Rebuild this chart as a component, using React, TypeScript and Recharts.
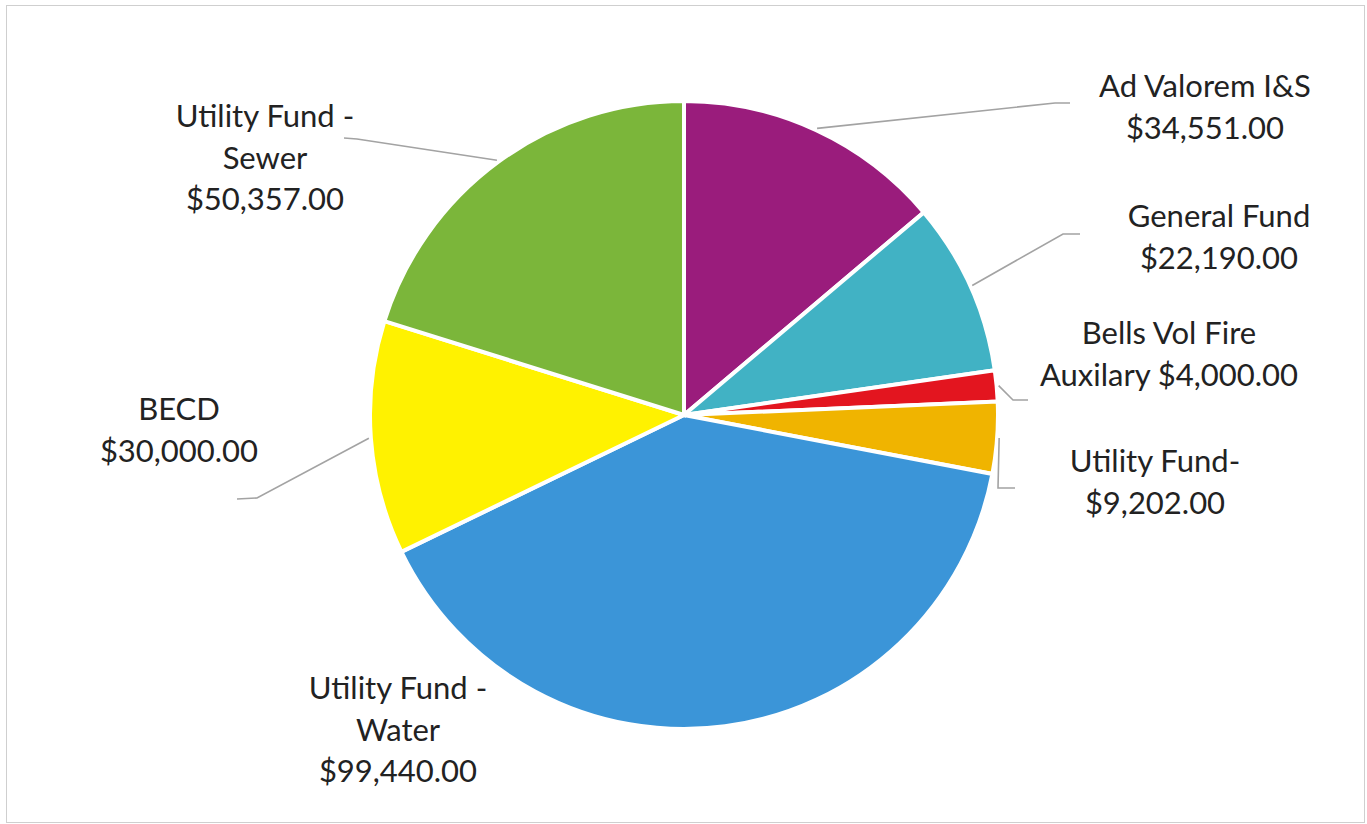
import React from 'react';
import { PieChart, Pie, Cell } from 'recharts';

// slices clockwise from 12 o'clock
const CATEGORIES = [
  'Ad Valorem I&S',
  'General Fund',
  'Bells Vol Fire\nAuxilary',
  'Utility Fund-',
  'Utility Fund -\nWater',
  'BECD',
  'Utility Fund -\nSewer',
];
const AMOUNTS = [34551, 22190, 4000, 9202, 99440, 30000, 50357];
const COLORS = ['#9a1c7c', '#41b2c4', '#e3151f', '#f0b400', '#3b95d8', '#fff200', '#7bb63a'];

// value sits on the same line as the last name line (only Bells Vol Fire)
const VALUE_INLINE = [false, false, true, false, false, false, false];

// hand placed labels, like the Excel original: leader elbow/end points and text anchor
const LABEL_LAYOUT: { line: number[][]; text: number[] }[] = [
  { line: [[1055, 103], [1070, 103]], text: [1205, 97] },
  { line: [[1063, 234], [1080, 234]], text: [1219, 227] },
  { line: [[1013, 400], [1028, 400]], text: [1169, 344] },
  { line: [[998, 488], [1015, 488]], text: [1155, 472] },
  { line: [], text: [398, 699] },
  { line: [[257, 498], [237, 499]], text: [179, 420] },
  { line: [[357, 139], [344, 138]], text: [265, 127] },
];

const data = CATEGORIES.map((name, i) => ({ name, value: AMOUNTS[i] }));

const money = (v: number) =>
  '$' + v.toLocaleString('en-US', { minimumFractionDigits: 2, maximumFractionDigits: 2 });

const RAD = Math.PI / 180;
const LINE_H = 41.5;

const renderLabel = (props: any) => {
  const { cx, cy, midAngle, outerRadius, index, value } = props;
  const layout = LABEL_LAYOUT[index];
  const r = outerRadius + 2;
  const sx = cx + r * Math.cos(-midAngle * RAD);
  const sy = cy + r * Math.sin(-midAngle * RAD);

  const nameLines = CATEGORIES[index].split('\n');
  const lines = VALUE_INLINE[index]
    ? [...nameLines.slice(0, -1), nameLines[nameLines.length - 1] + ' ' + money(value)]
    : [...nameLines, money(value)];

  const pts = [[sx, sy], ...layout.line].map((p) => p.join(',')).join(' ');

  return (
    <g key={`lbl-${index}`}>
      {layout.line.length > 0 && (
        <polyline points={pts} fill="none" stroke="#a3a3a3" strokeWidth={1.6} />
      )}
      <text
        x={layout.text[0]}
        y={layout.text[1]}
        textAnchor="middle"
        fill="#222"
        fontSize={31}
        fontFamily="Lato, 'Open Sans', sans-serif"
      >
        {lines.map((ln, k) => (
          <tspan key={k} x={layout.text[0]} dy={k === 0 ? 0 : LINE_H}>
            {ln}
          </tspan>
        ))}
      </text>
    </g>
  );
};

export default function App() {
  return (
    <div style={{ position: 'absolute', left: 0, top: 0, width: 1367, height: 824, background: '#fff' }}>
      <div
        style={{
          position: 'absolute',
          left: 6,
          top: 5,
          width: 1357,
          height: 816,
          border: '1px solid #cfcfcf',
        }}
      />
      <PieChart
        width={1367}
        height={824}
        margin={{ top: 0, right: 0, bottom: 0, left: 0 }}
        style={{ position: 'absolute', left: 0, top: 0 }}
      >
        <Pie
          data={data}
          dataKey="value"
          nameKey="name"
          cx={684}
          cy={415}
          outerRadius={314}
          startAngle={90}
          endAngle={-270}
          stroke="#fff"
          strokeWidth={4}
          label={renderLabel}
          labelLine={false}
          isAnimationActive={false}
        >
          {data.map((d, i) => (
            <Cell key={d.name} fill={COLORS[i]} />
          ))}
        </Pie>
      </PieChart>
    </div>
  );
}
